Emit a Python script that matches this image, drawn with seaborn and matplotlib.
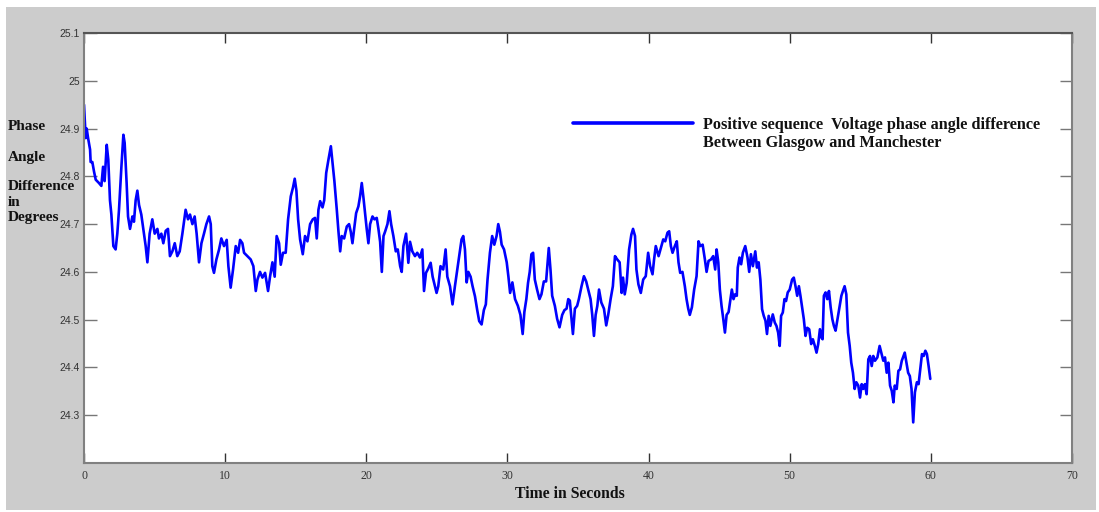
import matplotlib
matplotlib.use("Agg")
import matplotlib.pyplot as plt
import seaborn as sns
import pandas as pd
from matplotlib.patches import Rectangle
from matplotlib.lines import Line2D

# ---- data (time in s, angle in degrees) ----
t_seg1 = [0, 0.12, 0.19, 0.29, 0.43, 0.47, 0.59, 0.71, 0.83, 1.06,
          1.23, 1.35, 1.46, 1.61, 1.72, 1.84, 1.94, 2.08, 2.24, 2.36,
          2.48, 2.65, 2.79, 2.88, 3.02, 3.12, 3.26, 3.43, 3.54, 3.66,
          3.78, 3.9, 4.06, 4.25, 4.37, 4.49, 4.65, 4.84, 5.01, 5.2,
          5.31, 5.48, 5.62, 5.79, 5.95, 6.09, 6.26, 6.43, 6.61, 6.78,
          6.97, 7.2, 7.37, 7.51, 7.68, 7.84, 7.98, 8.15, 8.32, 8.5,
          8.67, 8.86, 8.98, 9.09, 9.21, 9.38, 9.57, 9.73, 9.92, 10.11,
          10.23, 10.39, 10.56, 10.75, 10.92, 11.06, 11.22, 11.34, 11.58, 11.81,
          12.0, 12.17, 12.29, 12.47, 12.64, 12.83, 13.04, 13.18, 13.35, 13.51,
          13.65, 13.82, 13.94, 14.1, 14.29, 14.46, 14.65, 14.81, 14.93, 15.05,
          15.17]
v_seg1 = [24.95, 24.88, 24.90, 24.88, 24.856, 24.83, 24.83, 24.81, 24.793, 24.786,
          24.78, 24.82, 24.79, 24.866, 24.835, 24.75, 24.72, 24.654, 24.647, 24.68,
          24.73, 24.82, 24.887, 24.87, 24.786, 24.716, 24.69, 24.716, 24.705, 24.75,
          24.77, 24.74, 24.72, 24.68, 24.654, 24.62, 24.68, 24.71, 24.68, 24.69,
          24.67, 24.68, 24.66, 24.686, 24.69, 24.633, 24.643, 24.66, 24.633, 24.643,
          24.68, 24.73, 24.71, 24.72, 24.70, 24.716, 24.68, 24.62, 24.66, 24.68,
          24.70, 24.716, 24.70, 24.612, 24.598, 24.626, 24.647, 24.67, 24.654, 24.667,
          24.612, 24.567, 24.605, 24.654, 24.64, 24.667, 24.66, 24.64, 24.633, 24.626,
          24.612, 24.56, 24.584, 24.60, 24.588, 24.598, 24.56, 24.59, 24.62, 24.59,
          24.675, 24.66, 24.615, 24.64, 24.64, 24.71, 24.758, 24.777, 24.795, 24.77,
          24.71]

t_seg2 = [15.31, 15.5, 15.66, 15.83, 16.02, 16.21, 16.37, 16.49, 16.61, 16.73,
          16.9, 17.02, 17.16, 17.32, 17.49, 17.6, 17.74, 17.91, 18.03, 18.15,
          18.26, 18.43, 18.62, 18.78, 18.9, 19.02, 19.14, 19.28, 19.44, 19.56,
          19.68, 19.8, 19.91, 20.03, 20.15, 20.27, 20.44, 20.58, 20.74, 20.86,
          20.98, 21.1, 21.22, 21.33, 21.5, 21.64, 21.76, 21.92, 22.09, 22.23,
          22.4, 22.51, 22.63, 22.82, 22.98, 23.1, 23.26, 23.45, 23.61, 23.8,
          23.97, 24.09, 24.23, 24.39, 24.56, 24.7, 24.86, 24.98, 25.1, 25.26,
          25.45, 25.62, 25.74, 25.93, 26.11, 26.28, 26.45, 26.59, 26.75, 26.87,
          26.99, 27.11, 27.23, 27.39, 27.53, 27.7, 27.86, 28.0, 28.17, 28.33,
          28.47, 28.59, 28.76, 28.92, 29.07, 29.23, 29.35, 29.47, 29.59, 29.76,
          29.95, 30.07, 30.19, 30.35, 30.54]
v_seg2 = [24.668, 24.637, 24.675, 24.664, 24.70, 24.71, 24.713, 24.67, 24.73, 24.748,
          24.735, 24.75, 24.807, 24.835, 24.863, 24.83, 24.79, 24.73, 24.684, 24.643,
          24.675, 24.67, 24.695, 24.70, 24.684, 24.66, 24.69, 24.723, 24.737, 24.758,
          24.786, 24.755, 24.723, 24.69, 24.66, 24.70, 24.716, 24.71, 24.713, 24.69,
          24.663, 24.60, 24.675, 24.684, 24.70, 24.727, 24.70, 24.675, 24.643, 24.647,
          24.612, 24.60, 24.654, 24.68, 24.619, 24.663, 24.643, 24.633, 24.64, 24.63,
          24.647, 24.56, 24.598, 24.607, 24.619, 24.59, 24.57, 24.556, 24.57, 24.612,
          24.605, 24.647, 24.59, 24.57, 24.532, 24.57, 24.605, 24.633, 24.668, 24.675,
          24.647, 24.578, 24.60, 24.59, 24.57, 24.549, 24.52, 24.497, 24.49, 24.52,
          24.532, 24.584, 24.64, 24.675, 24.657, 24.675, 24.70, 24.684, 24.657, 24.647,
          24.62, 24.59, 24.556, 24.578, 24.543]

t_seg3 = [30.74, 30.92, 31.08, 31.2, 31.34, 31.46, 31.58, 31.7, 31.82, 31.94,
          32.1, 32.27, 32.41, 32.58, 32.74, 32.93, 33.05, 33.17, 33.36, 33.52,
          33.69, 33.88, 34.04, 34.19, 34.31, 34.42, 34.54, 34.64, 34.78, 34.94,
          35.06, 35.25, 35.42, 35.58, 35.72, 35.89, 36.01, 36.13, 36.25, 36.37,
          36.49, 36.65, 36.84, 37.0, 37.14, 37.31, 37.47, 37.62, 37.78, 37.95,
          38.09, 38.19, 38.31, 38.45, 38.62, 38.78, 38.9, 39.04, 39.14, 39.28,
          39.45, 39.62, 39.8, 39.97, 40.11, 40.28, 40.39, 40.51, 40.71, 40.87,
          41.04, 41.18, 41.34, 41.46, 41.58, 41.7, 41.86, 42.0, 42.12, 42.24,
          42.4, 42.57, 42.69, 42.81, 42.92, 43.07, 43.23, 43.4, 43.54, 43.66,
          43.83, 43.99, 44.11, 44.25, 44.42, 44.58, 44.72, 44.82, 44.94, 45.05,
          45.17, 45.29, 45.41, 45.53, 45.67]
v_seg3 = [24.529, 24.51, 24.47, 24.516, 24.543, 24.577, 24.6, 24.637, 24.64, 24.584,
          24.563, 24.543, 24.553, 24.58, 24.58, 24.65, 24.605, 24.55, 24.529, 24.502,
          24.484, 24.51, 24.52, 24.523, 24.543, 24.54, 24.502, 24.47, 24.523, 24.529,
          24.543, 24.57, 24.591, 24.58, 24.563, 24.543, 24.51, 24.466, 24.51, 24.529,
          24.563, 24.536, 24.523, 24.488, 24.51, 24.543, 24.57, 24.633, 24.626, 24.62,
          24.556, 24.588, 24.553, 24.577, 24.647, 24.678, 24.69, 24.675, 24.605, 24.574,
          24.556, 24.584, 24.591, 24.64, 24.612, 24.595, 24.626, 24.654, 24.633, 24.65,
          24.668, 24.664, 24.682, 24.685, 24.654, 24.64, 24.654, 24.664, 24.62, 24.598,
          24.6, 24.57, 24.543, 24.523, 24.51, 24.526, 24.563, 24.591, 24.664, 24.654,
          24.657, 24.626, 24.6, 24.623, 24.626, 24.633, 24.605, 24.647, 24.62, 24.563,
          24.529, 24.502, 24.473, 24.51, 24.516]

t_seg4 = [45.9, 46.02, 46.13, 46.25, 46.32, 46.44, 46.56, 46.68, 46.85, 47.01,
          47.13, 47.25, 47.39, 47.56, 47.68, 47.8, 47.92, 48.04, 48.16, 48.28,
          48.39, 48.51, 48.63, 48.8, 48.94, 49.06, 49.18, 49.29, 49.39, 49.51,
          49.63, 49.74, 49.86, 50.0, 50.17, 50.29, 50.41, 50.53, 50.65, 50.76,
          50.88, 51.0, 51.12, 51.24, 51.38, 51.52, 51.64, 51.78, 51.9, 52.02,
          52.14, 52.26, 52.33, 52.42, 52.54, 52.66, 52.78, 52.9, 53.02, 53.13,
          53.25, 53.37, 53.51, 53.66, 53.77, 53.89, 54.01, 54.13, 54.25, 54.36,
          54.48, 54.6, 54.72, 54.86, 54.98, 55.1, 55.21, 55.33, 55.45, 55.57,
          55.69, 55.81, 55.92, 56.04, 56.21, 56.37, 56.49, 56.63, 56.75, 56.87,
          56.99, 57.11, 57.23, 57.35, 57.44, 57.58, 57.7, 57.82, 57.94, 58.06,
          58.15, 58.27, 58.39, 58.51, 58.63, 58.75, 58.87, 59.01, 59.13, 59.25,
          59.37, 59.49, 59.61, 59.72, 59.84, 59.96]
v_seg4 = [24.563, 24.543, 24.553, 24.55, 24.609, 24.63, 24.616, 24.64, 24.654, 24.63,
          24.6, 24.637, 24.612, 24.643, 24.609, 24.62, 24.584, 24.522, 24.508, 24.498,
          24.47, 24.508, 24.487, 24.511, 24.494, 24.487, 24.473, 24.445, 24.508, 24.515,
          24.543, 24.539, 24.557, 24.563, 24.584, 24.588, 24.57, 24.55, 24.57, 24.55,
          24.526, 24.501, 24.466, 24.483, 24.48, 24.449, 24.459, 24.445, 24.431, 24.449,
          24.48, 24.462, 24.459, 24.55, 24.557, 24.543, 24.56, 24.526, 24.501, 24.487,
          24.477, 24.498, 24.522, 24.55, 24.56, 24.57, 24.553, 24.473, 24.445, 24.41,
          24.389, 24.355, 24.369, 24.362, 24.337, 24.365, 24.355, 24.365, 24.344, 24.417,
          24.424, 24.403, 24.424, 24.414, 24.421, 24.445, 24.431, 24.414, 24.421, 24.389,
          24.41, 24.362, 24.351, 24.327, 24.362, 24.355, 24.393, 24.396, 24.414, 24.424,
          24.431, 24.41, 24.389, 24.382, 24.355, 24.285, 24.348, 24.369, 24.365, 24.396,
          24.428, 24.424, 24.435, 24.428, 24.403, 24.376]

x_ticks = [0, 10, 20, 30, 40, 50, 60, 70]
x_tick_labels = ["0", "10", "20", "30", "40", "50", "60", "70"]
y_ticks = [24.3, 24.4, 24.5, 24.6, 24.7, 24.8, 24.9, 25.0, 25.1]
y_tick_labels = ["24.3", "24.4", "24.5", "24.6", "24.7", "24.8", "24.9", "25", "25.1"]

legend_line1 = "Positive sequence  Voltage phase angle difference"
legend_line2 = "Between Glasgow and Manchester"
y_label = "Phase\n\nAngle\n\nDifference\nin\nDegrees"
x_label = "Time in Seconds"

# ---- figure ----
sns.set_style("ticks")
plt.rcParams['font.family'] = ['Liberation Serif', 'DejaVu Serif']

W, H = 1099, 512
fig = plt.figure(figsize=(W / 100, H / 100), dpi=100, facecolor="white")
fig.patches.append(Rectangle((6 / W, 2 / H), 1090 / W, 503 / H, transform=fig.transFigure,
                             facecolor="#cccccc", edgecolor="none", zorder=-10))
ax = fig.add_axes([84 / W, 1 - 463 / H, (1072 - 84) / W, (463 - 33) / H])
ax.set_facecolor("white")

df = pd.DataFrame({"Time": t_seg1 + t_seg2 + t_seg3 + t_seg4,
                   "Angle": v_seg1 + v_seg2 + v_seg3 + v_seg4})
sns.lineplot(data=df, x="Time", y="Angle", color="#0000ff", linewidth=1.9,
             label=legend_line1, ax=ax)

ax.set_xlim(0, 70)
ax.set_ylim(24.2, 25.1)
ax.set_xticks(x_ticks)
ax.set_xticklabels(x_tick_labels, fontsize=8.5, family="Liberation Serif", color="#333333")
ax.set_yticks(y_ticks)
ax.set_yticklabels(y_tick_labels, fontsize=7.5, family="Liberation Sans", color="#333333")
ax.tick_params(axis="x", direction="in", top=True, length=7, width=1, color="#333333", pad=5)
ax.tick_params(axis="y", direction="in", right=True, length=9, width=1, color="#777777", pad=3)

for name, s in ax.spines.items():
    s.set_color("#555555" if name == "top" else "#808080")
    s.set_linewidth(1.5)

ax.set_xlabel(x_label, fontsize=11.3, fontweight="bold", color="#111111")
ax.xaxis.set_label_coords((570 - 84) / 988, -(486 - 463) / 430)
ax.set_ylabel(y_label, fontsize=11, fontweight="bold", color="#111111", rotation=0,
              ha="left", va="center", linespacing=1.2)
ax.yaxis.set_label_coords((8 - 84) / 988, (463 - 172) / 430)

handles, labels = ax.get_legend_handles_labels()
blank = Line2D([], [], color="none")
leg = ax.legend(handles=[handles[0], blank], labels=[legend_line1, legend_line2],
                loc="upper left", bbox_to_anchor=(573 / W, 1 - 117 / H),
                bbox_transform=fig.transFigure, frameon=False, borderpad=0,
                borderaxespad=0, handlelength=7.4, handletextpad=0.62, labelspacing=0.12,
                prop={"family": "Liberation Serif", "weight": "bold", "size": 11.7})
leg.get_lines()[0].set_linewidth(2.6)
for txt in leg.get_texts():
    txt.set_color("#111111")

fig.savefig("out.png", dpi=100, facecolor=fig.get_facecolor())
